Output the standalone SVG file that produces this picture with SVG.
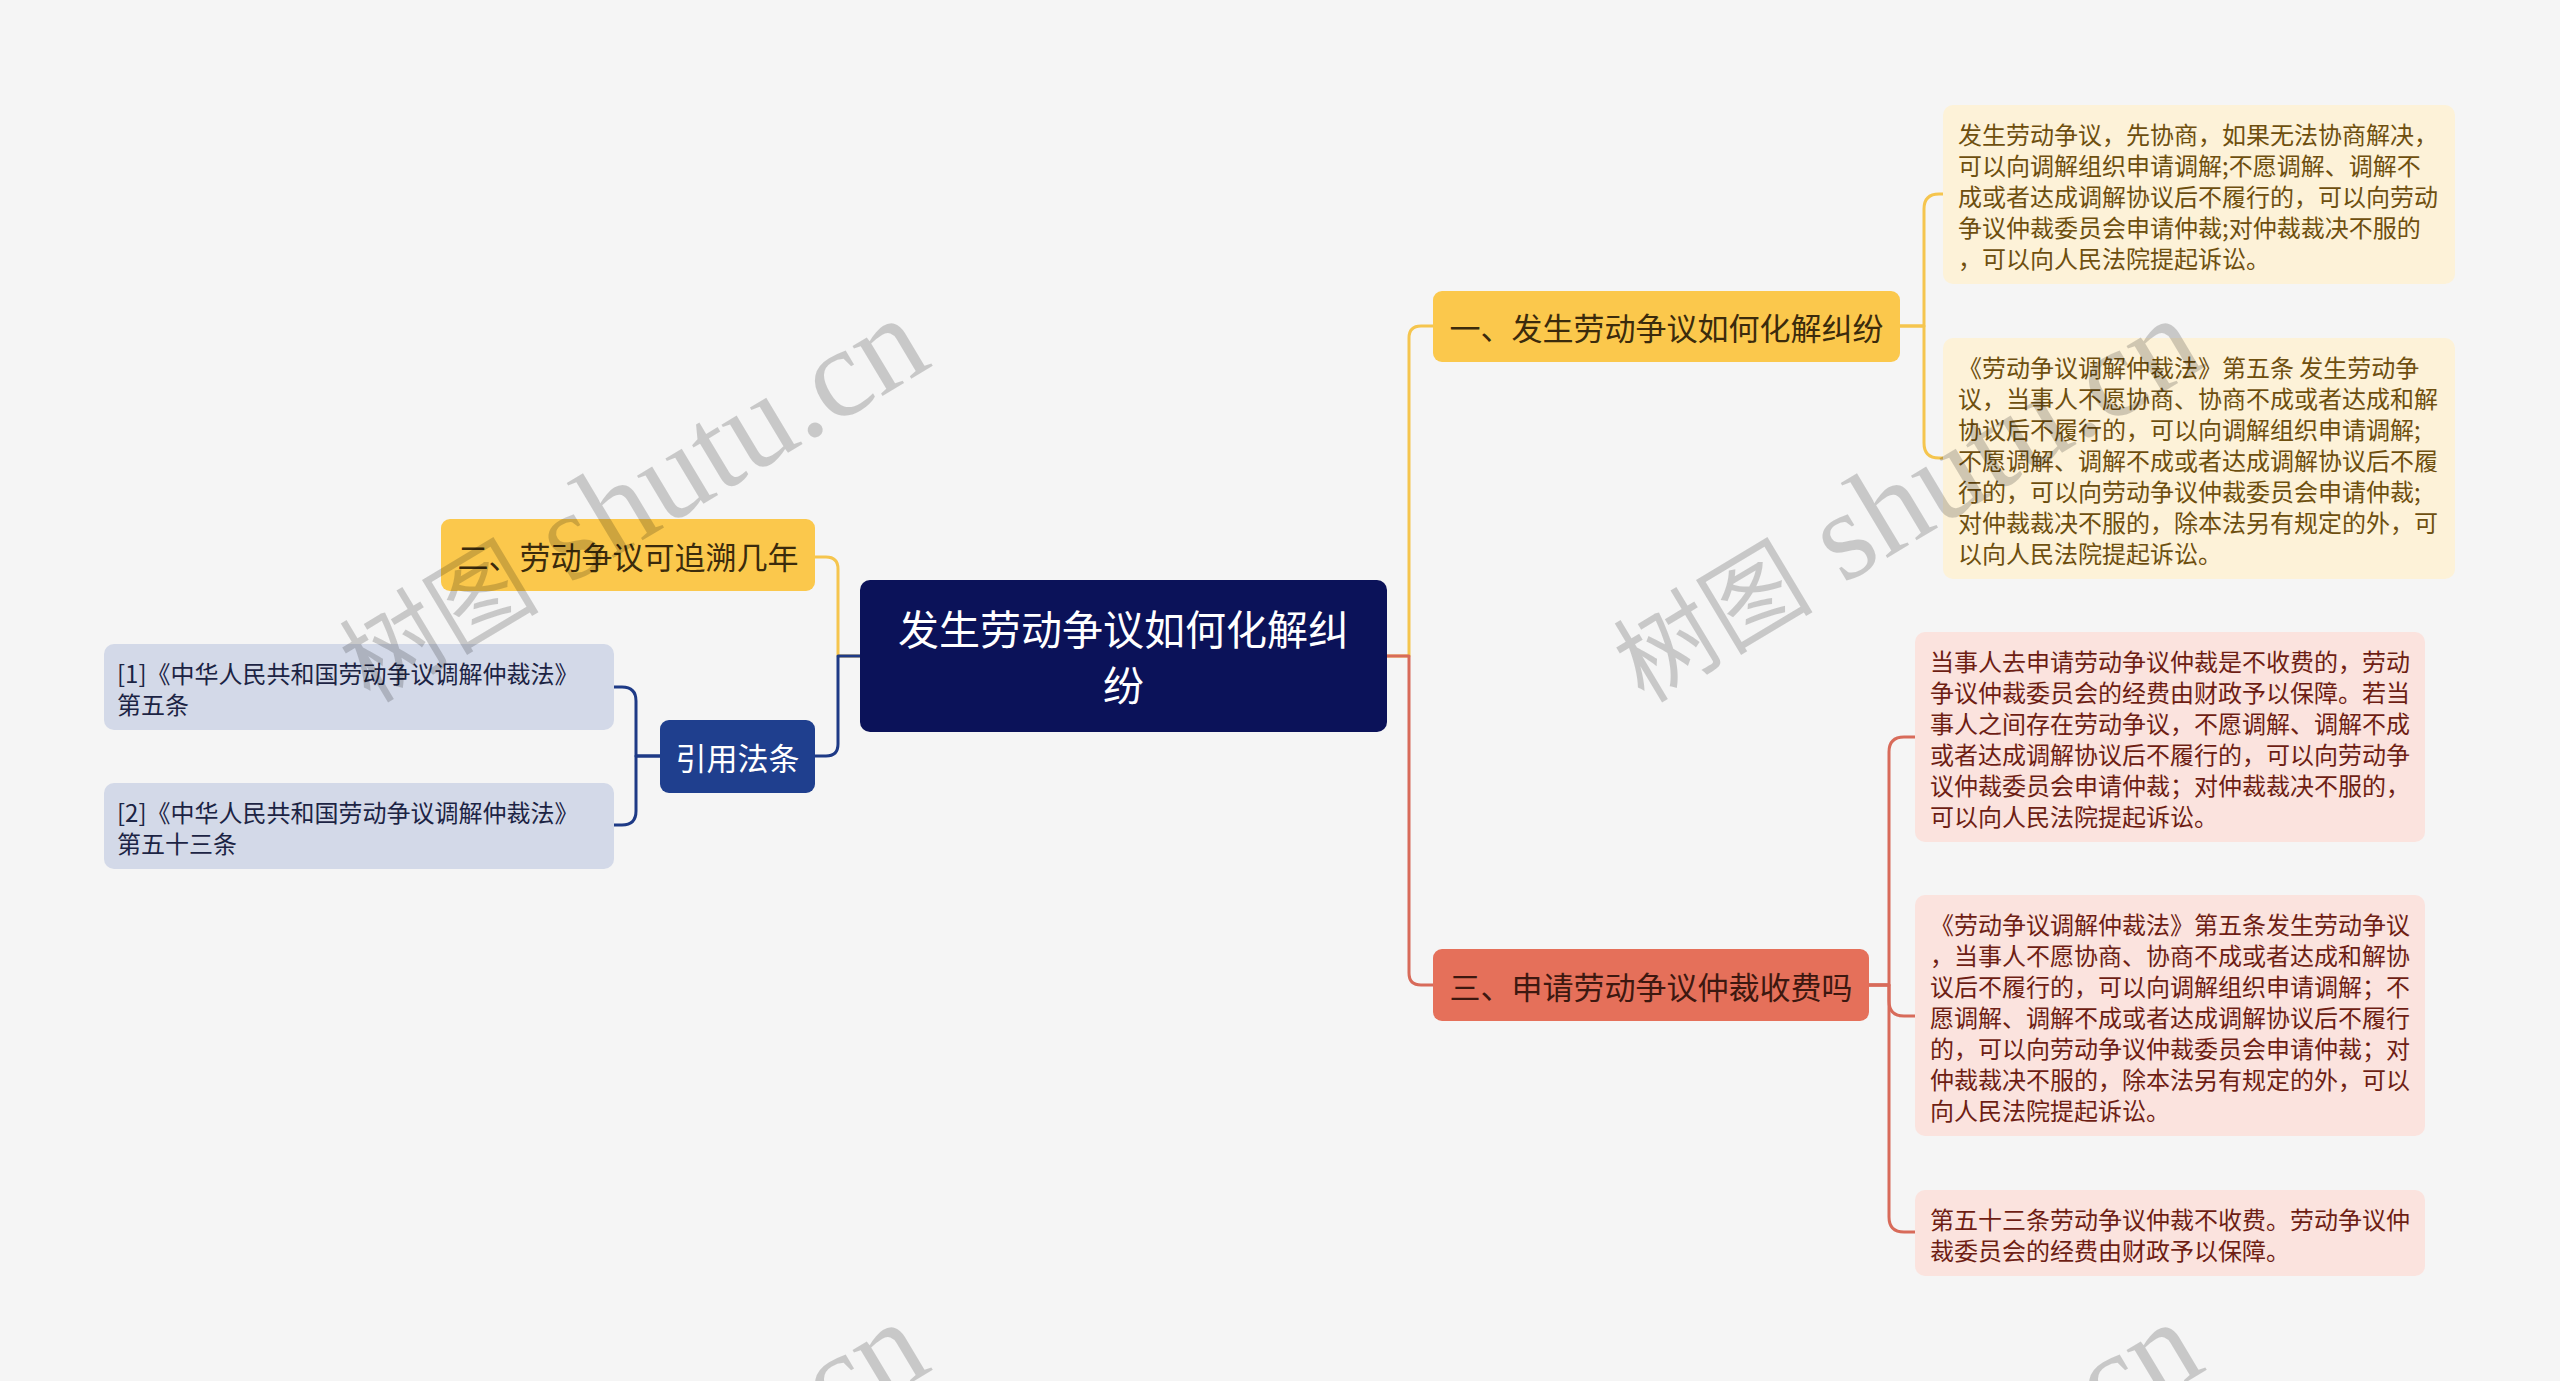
<svg xmlns="http://www.w3.org/2000/svg" width="2560" height="1381" viewBox="0 0 2560 1381">
<style>
.t{font-family:'Noto Sans CJK SC','Noto Sans',sans-serif;dominant-baseline:central}
.c{fill:none;stroke-width:3;stroke-linecap:round;stroke-linejoin:round}
.cy{stroke:#f5c54e}.cr{stroke:#d86b5a}.cb{stroke:#1e3a86}
.main{fill:#0b1259}
.ty{fill:#fbc84c}.tr{fill:#e5705a}.tb{fill:#1f3f8e}
.ly{fill:#fdf2d8}.lr{fill:#fbe3de}.lb{fill:#d3d9e8}
.f41{font-size:41px;fill:#ffffff}
.f31{font-size:31px}
.f24{font-size:24px}
.dy{fill:#3b2b0c}.dr{fill:#3d1810}.w{fill:#ffffff}
.xy{fill:#6e4f0f}.xr{fill:#6e1e14}.xb{fill:#1c2444}
.wm{font-family:'Liberation Serif','Noto Sans CJK SC',serif;fill:#000;fill-opacity:0.18}
</style>
<rect x="0" y="0" width="2560" height="1381" fill="#f5f5f5"/>

<g id="connectors">
<path class="c cy" d="M1387 656 H1409 V338 Q1409 326 1421 326 H1433"/>
<path class="c cr" d="M1387 656 H1409 V973 Q1409 985 1421 985 H1433"/>
<path class="c cy" d="M860 656 H838 V569 Q838 557 826 557 H815"/>
<path class="c cb" d="M860 656 H838 V744 Q838 756 826 756 H815"/>
<path class="c cb" d="M660 756 H636 V701 Q636 687 622 687 H613"/>
<path class="c cb" d="M660 756 H636 V811 Q636 825 622 825 H613"/>
<path class="c cy" d="M1900 326 H1924 V209 Q1924 194 1939 194 H1943"/>
<path class="c cy" d="M1900 326 H1924 V443 Q1924 458 1939 458 H1943"/>
<path class="c cr" d="M1869 985 H1889 V752 Q1889 737 1904 737 H1915"/>
<path class="c cr" d="M1869 985 H1889 V1001 Q1889 1016 1904 1016 H1915"/>
<path class="c cr" d="M1869 985 H1889 V1217 Q1889 1232 1904 1232 H1915"/>
</g>

<g id="root">
<rect class="main" x="860" y="580" width="527" height="152" rx="10"/>
<text class="t f41" x="1123.5" y="627" text-anchor="middle">发生劳动争议如何化解纠</text>
<text class="t f41" x="1123.5" y="683" text-anchor="middle">纷</text>
</g>

<g id="topic1">
<rect class="ty" x="1433" y="291" width="467" height="71" rx="9"/>
<text class="t f31 dy" x="1666.5" y="326.5" text-anchor="middle">一、发生劳动争议如何化解纠纷</text>
</g>

<g id="topic2">
<rect class="ty" x="441" y="519" width="374" height="72" rx="9"/>
<text class="t f31 dy" x="628" y="555" text-anchor="middle">二、劳动争议可追溯几年</text>
</g>

<g id="topic-refs">
<rect class="tb" x="660" y="720" width="155" height="73" rx="9"/>
<text class="t f31 w" x="737.5" y="756.5" text-anchor="middle">引用法条</text>
</g>

<g id="topic3">
<rect class="tr" x="1433" y="949" width="436" height="72" rx="9"/>
<text class="t f31 dr" x="1651" y="985" text-anchor="middle">三、申请劳动争议仲裁收费吗</text>
</g>

<g id="leaf1a">
<rect class="ly" x="1943" y="105" width="512" height="179" rx="10"/>
<text class="t f24 xy">
<tspan x="1958" y="132.5">发生劳动争议，先协商，如果无法协商解决，</tspan>
<tspan x="1958" y="163.5">可以向调解组织申请调解;不愿调解、调解不</tspan>
<tspan x="1958" y="194.5">成或者达成调解协议后不履行的，可以向劳动</tspan>
<tspan x="1958" y="225.5">争议仲裁委员会申请仲裁;对仲裁裁决不服的</tspan>
<tspan x="1958" y="256.5">，可以向人民法院提起诉讼。</tspan>
</text>
</g>

<g id="leaf1b">
<rect class="ly" x="1943" y="338" width="512" height="241" rx="10"/>
<text class="t f24 xy">
<tspan x="1958" y="365.5">《劳动争议调解仲裁法》第五条 发生劳动争</tspan>
<tspan x="1958" y="396.5">议，当事人不愿协商、协商不成或者达成和解</tspan>
<tspan x="1958" y="427.5">协议后不履行的，可以向调解组织申请调解;</tspan>
<tspan x="1958" y="458.5">不愿调解、调解不成或者达成调解协议后不履</tspan>
<tspan x="1958" y="489.5">行的，可以向劳动争议仲裁委员会申请仲裁;</tspan>
<tspan x="1958" y="520.5">对仲裁裁决不服的，除本法另有规定的外，可</tspan>
<tspan x="1958" y="551.5">以向人民法院提起诉讼。</tspan>
</text>
</g>

<g id="leaf3a">
<rect class="lr" x="1915" y="632" width="510" height="210" rx="10"/>
<text class="t f24 xr">
<tspan x="1930" y="659.5">当事人去申请劳动争议仲裁是不收费的，劳动</tspan>
<tspan x="1930" y="690.5">争议仲裁委员会的经费由财政予以保障。若当</tspan>
<tspan x="1930" y="721.5">事人之间存在劳动争议，不愿调解、调解不成</tspan>
<tspan x="1930" y="752.5">或者达成调解协议后不履行的，可以向劳动争</tspan>
<tspan x="1930" y="783.5">议仲裁委员会申请仲裁；对仲裁裁决不服的，</tspan>
<tspan x="1930" y="814.5">可以向人民法院提起诉讼。</tspan>
</text>
</g>

<g id="leaf3b">
<rect class="lr" x="1915" y="895" width="510" height="241" rx="10"/>
<text class="t f24 xr">
<tspan x="1930" y="922.5">《劳动争议调解仲裁法》第五条发生劳动争议</tspan>
<tspan x="1930" y="953.5">，当事人不愿协商、协商不成或者达成和解协</tspan>
<tspan x="1930" y="984.5">议后不履行的，可以向调解组织申请调解；不</tspan>
<tspan x="1930" y="1015.5">愿调解、调解不成或者达成调解协议后不履行</tspan>
<tspan x="1930" y="1046.5">的，可以向劳动争议仲裁委员会申请仲裁；对</tspan>
<tspan x="1930" y="1077.5">仲裁裁决不服的，除本法另有规定的外，可以</tspan>
<tspan x="1930" y="1108.5">向人民法院提起诉讼。</tspan>
</text>
</g>

<g id="leaf3c">
<rect class="lr" x="1915" y="1190" width="510" height="86" rx="10"/>
<text class="t f24 xr">
<tspan x="1930" y="1217.5">第五十三条劳动争议仲裁不收费。劳动争议仲</tspan>
<tspan x="1930" y="1248.5">裁委员会的经费由财政予以保障。</tspan>
</text>
</g>

<g id="ref1">
<rect class="lb" x="104" y="644" width="510" height="86" rx="10"/>
<text class="t f24 xb">
<tspan x="117" y="671.5">[1]《中华人民共和国劳动争议调解仲裁法》</tspan>
<tspan x="117" y="702.5">第五条</tspan>
</text>
</g>

<g id="ref2">
<rect class="lb" x="104" y="783" width="510" height="86" rx="10"/>
<text class="t f24 xb">
<tspan x="117" y="810.5">[2]《中华人民共和国劳动争议调解仲裁法》</tspan>
<tspan x="117" y="841.5">第五十三条</tspan>
</text>
</g>

<g id="watermarks">
<text class="wm" transform="translate(370 704) rotate(-31)"><tspan font-size="100">树图</tspan><tspan font-size="127"> shutu.cn</tspan></text>
<text class="wm" transform="translate(1644 704) rotate(-31)"><tspan font-size="100">树图</tspan><tspan font-size="127"> shutu.cn</tspan></text>
<text class="wm" transform="translate(370 1708) rotate(-31)"><tspan font-size="100">树图</tspan><tspan font-size="127"> shutu.cn</tspan></text>
<text class="wm" transform="translate(1644 1708) rotate(-31)"><tspan font-size="100">树图</tspan><tspan font-size="127"> shutu.cn</tspan></text>
</g>
</svg>
